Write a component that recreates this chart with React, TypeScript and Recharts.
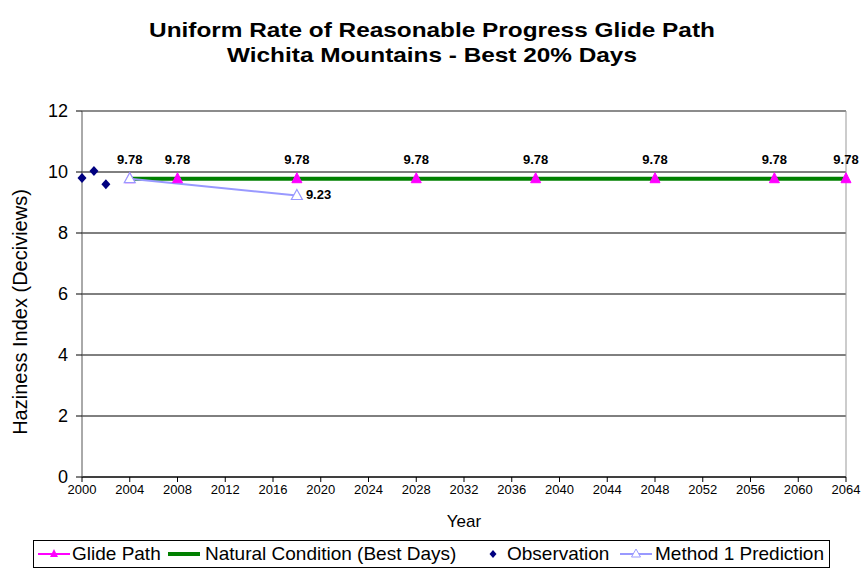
import { ComposedChart, Line, Scatter, XAxis, YAxis, CartesianGrid, ReferenceLine, LabelList } from "recharts";

const glideYears = [2004, 2008, 2018, 2028, 2038, 2048, 2058, 2064];
const glideValues = [9.78, 9.78, 9.78, 9.78, 9.78, 9.78, 9.78, 9.78];
const naturalYears = [2004, 2008, 2018, 2028, 2038, 2048, 2058, 2064];
const naturalValues = [9.78, 9.78, 9.78, 9.78, 9.78, 9.78, 9.78, 9.78];
const obsYears = [2000, 2001, 2002];
const obsValues = [9.8, 10.03, 9.6];
const methodYears = [2004, 2018];
const methodValues = [9.78, 9.23];
const xTicks = [2000, 2004, 2008, 2012, 2016, 2020, 2024, 2028, 2032, 2036, 2040, 2044, 2048, 2052, 2056, 2060, 2064];
const yTicks = [0, 2, 4, 6, 8, 10, 12];
const titleLines = ["Uniform Rate of Reasonable Progress Glide Path", "Wichita Mountains - Best 20% Days"];

const glide = glideYears.map((year, i) => ({ year, value: glideValues[i] }));
const natural = naturalYears.map((year, i) => ({ year, value: naturalValues[i] }));
const obs = obsYears.map((year, i) => ({ year, value: obsValues[i] }));
const method = methodYears.map((year, i) => ({ year, value: methodValues[i] }));

const font = "Arial, 'Liberation Sans', sans-serif";

const FilledTriangle = (props: any) => {
  const { cx, cy } = props;
  if (cx == null || cy == null) return null;
  return <path d={`M${cx},${cy - 6}L${cx + 5},${cy + 4}L${cx - 5},${cy + 4}Z`} fill="#FF00FF" stroke="#FF00FF" />;
};

const HollowTriangle = (props: any) => {
  const { cx, cy } = props;
  if (cx == null || cy == null) return null;
  return <path d={`M${cx},${cy - 6}L${cx + 5.5},${cy + 4}L${cx - 5.5},${cy + 4}Z`} fill="#fff" stroke="#9999FF" strokeWidth={1.2} />;
};

const Diamond = (props: any) => {
  const { cx, cy } = props;
  if (cx == null || cy == null) return null;
  return <path d={`M${cx},${cy - 5}L${cx + 4.5},${cy}L${cx},${cy + 5}L${cx - 4.5},${cy}Z`} fill="#000080" />;
};

const legendItems = [
  { name: "Glide Path", color: "#FF00FF", kind: "tri", icon: 4, text: 38 },
  { name: "Natural Condition (Best Days)", color: "#008000", kind: "thick", icon: 134, text: 171 },
  { name: "Observation", color: "#000080", kind: "diamond", icon: 443, text: 473 },
  { name: "Method 1 Prediction", color: "#9999FF", kind: "hollow", icon: 586, text: 621 },
];

const LegendIcon = ({ kind, color }: { kind: string; color: string }) => (
  <svg width={32} height={14} style={{ display: "block" }}>
    {kind !== "diamond" && <line x1={0} y1={7} x2={32} y2={7} stroke={color} strokeWidth={kind === "thick" ? 4 : 2} />}
    {kind === "tri" && <path d="M16,2L20,10L12,10Z" fill={color} />}
    {kind === "hollow" && <path d="M16,2L20.5,10L11.5,10Z" fill="#fff" stroke={color} />}
    {kind === "diamond" && <path d="M16,3L19.5,7L16,11L12.5,7Z" fill={color} />}
  </svg>
);

export default function App() {
  return (
    <div style={{ position: "absolute", left: 0, top: 0, width: 864, height: 578, background: "#fff", fontFamily: font }}>
      {titleLines.map((t, i) => (
        <div
          key={t}
          style={{
            position: "absolute",
            top: 18 + i * 25,
            left: 0,
            width: 864,
            textAlign: "center",
            fontWeight: "bold",
            fontSize: 21,
            lineHeight: "24px",
            transform: "scaleX(1.16)",
            transformOrigin: "432px 0",
          }}
        >
          {t}
        </div>
      ))}
      <ComposedChart width={864} height={578} margin={{ top: 111, right: 18, bottom: 71, left: 42 }}>
        <CartesianGrid horizontal vertical={false} stroke="#000" strokeWidth={1} />
        <XAxis
          type="number"
          dataKey="year"
          domain={[2000, 2064]}
          ticks={xTicks}
          interval={0}
          height={30}
          axisLine={{ stroke: "#000" }}
          tickLine={{ stroke: "#000" }}
          tickSize={5}
          tickMargin={3}
          tick={{ fontSize: 13, fill: "#000", fontFamily: font }}
          allowDuplicatedCategory={false}
        />
        <YAxis
          type="number"
          domain={[0, 12]}
          ticks={yTicks}
          width={40}
          axisLine={{ stroke: "#555" }}
          tickLine={{ stroke: "#000" }}
          tickSize={6}
          tickMargin={8}
          tick={{ fontSize: 18, fill: "#000", fontFamily: font }}
        />
        <ReferenceLine x={2064} stroke="#999" strokeWidth={1} />
        <ReferenceLine y={12} stroke="#999" strokeWidth={1} />
        <Line data={glide} dataKey="value" stroke="#FF00FF" strokeWidth={2} dot={<FilledTriangle />} isAnimationActive={false}>
          <LabelList dataKey="value" position="top" offset={15} formatter={(v: any) => Number(v).toFixed(2)} style={{ fontSize: 13, fontWeight: "bold", fill: "#000", fontFamily: font }} />
        </Line>
        <Line data={natural} dataKey="value" stroke="#008000" strokeWidth={4} dot={false} isAnimationActive={false} />
        <Line data={method} dataKey="value" stroke="#9999FF" strokeWidth={2} dot={<HollowTriangle />} isAnimationActive={false}>
          <LabelList
            dataKey="value"
            content={(p: any) =>
              p.index === 1 ? (
                <text x={p.x + 9} y={p.y + 4} fontSize={13} fontWeight="bold" fill="#000" fontFamily={font}>
                  {Number(p.value).toFixed(2)}
                </text>
              ) : null
            }
          />
        </Line>
        <Scatter data={obs} dataKey="value" shape={<Diamond />} isAnimationActive={false} />
      </ComposedChart>
      <div style={{ position: "absolute", left: 20, top: 312, width: 0, height: 0 }}>
        <div style={{ position: "absolute", left: 0, top: 0, transform: "translate(-50%,-50%) rotate(-90deg)", whiteSpace: "nowrap", fontSize: 20, lineHeight: "22px" }}>
          Haziness Index (Deciviews)
        </div>
      </div>
      <div style={{ position: "absolute", top: 512, left: 82, width: 764, textAlign: "center", fontSize: 17, lineHeight: "20px" }}>Year</div>
      <div style={{ position: "absolute", top: 540, left: 33, width: 797, height: 28, border: "1px solid #000", boxSizing: "border-box", fontSize: 19 }}>
        {legendItems.map((it) => (
          <div key={it.name}>
            <div style={{ position: "absolute", left: it.icon, top: 6 }}>
              <LegendIcon kind={it.kind} color={it.color} />
            </div>
            <div style={{ position: "absolute", left: it.text, top: 2, lineHeight: "22px", whiteSpace: "nowrap" }}>{it.name}</div>
          </div>
        ))}
      </div>
    </div>
  );
}
